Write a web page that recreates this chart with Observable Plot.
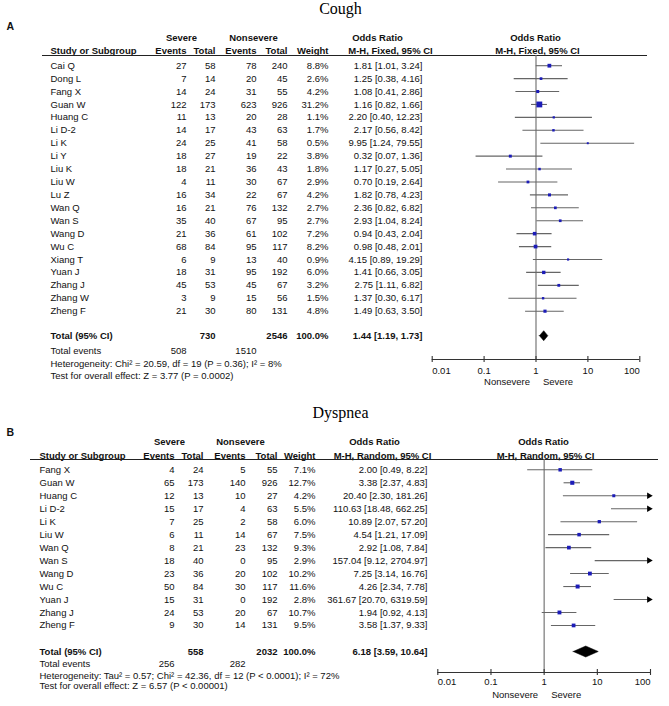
<!DOCTYPE html>
<html><head><meta charset="utf-8">
<script src="https://cdn.jsdelivr.net/npm/d3@7"></script>
<script src="https://cdn.jsdelivr.net/npm/@observablehq/plot@0.6"></script>
<style>
body{margin:0;background:#fff;}
#chart svg{display:block;}
</style></head><body><div id="chart"></div>
<script>
// ---------- Panel A: Cough ----------
const coughStudies = ["Cai Q","Dong L","Fang X","Guan W","Huang C","Li D-2","Li K","Li Y","Liu K","Liu W","Lu Z","Wan Q","Wan S","Wang D","Wu C","Xiang T","Yuan J","Zhang J","Zhang W","Zheng F"];
const coughSevereEvents = [27,7,14,122,11,14,24,18,18,4,16,16,35,21,68,6,18,45,3,21];
const coughSevereTotal = [58,14,24,173,13,17,25,27,21,11,34,21,40,36,84,9,31,53,9,30];
const coughNonsevereEvents = [78,20,31,623,20,43,41,19,36,30,22,76,67,61,95,13,95,45,15,80];
const coughNonsevereTotal = [240,45,55,926,28,63,58,22,43,67,67,132,95,102,117,40,192,67,56,131];
const coughWeight = [8.8,2.6,4.2,31.2,1.1,1.7,0.5,3.8,1.8,2.9,4.2,2.7,2.7,7.2,8.2,0.9,6.0,3.2,1.5,4.8];
const coughOR = [1.81,1.25,1.08,1.16,2.20,2.17,9.95,0.32,1.17,0.70,1.82,2.36,2.93,0.94,0.98,4.15,1.41,2.75,1.37,1.49];
const coughLower = [1.01,0.38,0.41,0.82,0.40,0.56,1.24,0.07,0.27,0.19,0.78,0.82,1.04,0.43,0.48,0.89,0.66,1.11,0.30,0.63];
const coughUpper = [3.24,4.16,2.86,1.66,12.23,8.42,79.55,1.36,5.05,2.64,4.23,6.82,8.24,2.04,2.01,19.29,3.05,6.82,6.17,3.50];
const coughPooled = [1.44, 1.19, 1.73];
const coughTotals = [730, 2546];
const coughTotalEvents = [508, 1510];
const coughHeterogeneity = "Heterogeneity: Chi² = 20.59, df = 19 (P = 0.36); I² = 8%";
const coughOverall = "Test for overall effect: Z = 3.77 (P = 0.0002)";

// ---------- Panel B: Dyspnea ----------
const dyspStudies = ["Fang X","Guan W","Huang C","Li D-2","Li K","Liu W","Wan Q","Wan S","Wang D","Wu C","Yuan J","Zhang J","Zheng F"];
const dyspSevereEvents = [4,65,12,15,7,6,8,18,23,50,15,24,9];
const dyspSevereTotal = [24,173,13,17,25,11,21,40,36,84,31,53,30];
const dyspNonsevereEvents = [5,140,10,4,2,14,23,0,20,30,0,20,14];
const dyspNonsevereTotal = [55,926,27,63,58,67,132,95,102,117,192,67,131];
const dyspWeight = [7.1,12.7,4.2,5.5,6.0,7.5,9.3,2.9,10.2,11.6,2.8,10.7,9.5];
const dyspOR = [2.00,3.38,20.40,110.63,10.89,4.54,2.92,157.04,7.25,4.26,361.67,1.94,3.58];
const dyspLower = [0.49,2.37,2.30,18.48,2.07,1.21,1.08,9.12,3.14,2.34,20.70,0.92,1.37];
const dyspUpper = [8.22,4.83,181.26,662.25,57.20,17.09,7.84,2704.97,16.76,7.78,6319.59,4.13,9.33];
const dyspPooled = [6.18, 3.59, 10.64];
const dyspTotals = [558, 2032];
const dyspTotalEvents = [256, 282];
const dyspHeterogeneity = "Heterogeneity: Tau² = 0.57; Chi² = 42.36, df = 12 (P < 0.0001); I² = 72%";
const dyspOverall = "Test for overall effect: Z = 6.57 (P < 0.00001)";

// ---------- Axis ----------
const axisTicks = [0.01, 0.1, 1, 10, 100];
const axisTickLabels = ["0.01", "0.1", "1", "10", "100"];

const f2 = v => v.toFixed(2);

function panel(c) {
  const W = 669;
  const L = c.L, R = c.R;
  const yi = px => (px - c.y0) / c.step;
  const rows = c.studies.map((s, i) => ({
    i, s, se: c.se[i], st: c.st[i], ne: c.ne[i], nt: c.nt[i], w: c.w[i],
    or: c.or[i], lo: c.lo[i], hi: c.hi[i]
  }));
  const T = (arr, colX, anchor, extra = {}) =>
    Plot.text(arr, {y: "y", text: "t", frameAnchor: "left", dx: colX - L, textAnchor: anchor, fill: "#111", ...extra});
  const B = {fontWeight: "bold"};
  const col = (key, fmt = d => String(d)) => rows.map(d => ({y: d.i, t: fmt(d[key])}));
  const ty = yi(c.totalY), h1 = yi(c.h1Y), h2 = yi(c.h2Y);
  const axY = yi(c.axisY), tk = 3 / c.step;
  const [pe, plo, phi] = c.pooled;
  const dh = c.diamondH / c.step;
  const tickData = axisTicks.map((v, k) => ({v, t: axisTickLabels[k], k}));
  const n = tickData.length;

  return Plot.plot({
    width: W, height: c.H,
    marginLeft: L, marginRight: W - R, marginTop: 0, marginBottom: 0,
    style: {fontFamily: "'Liberation Sans', Arial, sans-serif", fontSize: "9.5px", background: "#fff", overflow: "visible"},
    x: {type: "log", domain: [0.01, 100], range: c.xRange, axis: null},
    y: {type: "linear", domain: [0, 1], range: [c.y0, c.y0 + c.step], axis: null},
    r: {type: "sqrt", domain: [0, d3.max(c.w)], range: c.rRange},
    marks: [
      // title and panel letter
      T([{y: yi(c.titleY), t: c.title}], 340, "middle", {fontFamily: "'Liberation Serif', 'DejaVu Serif', serif", fontSize: 16, fill: "#000"}),
      T([{y: yi(c.letterY), t: c.letter}], 6, "start", {fontWeight: "bold", fontSize: 10.5}),
      // headers row 1
      T([{y: h1, t: "Severe"}], c.x.sevC, "middle", B),
      T([{y: h1, t: "Nonsevere"}], c.x.nonC, "middle", B),
      T([{y: h1, t: "Odds Ratio"}], c.x.orC1, "middle", B),
      T([{y: h1, t: "Odds Ratio"}], c.x.plC1, "middle", B),
      // headers row 2
      T([{y: h2, t: "Study or Subgroup"}], c.x.name, "start", B),
      T([{y: h2, t: "Events"}], c.x.se, "end", B),
      T([{y: h2, t: "Total"}], c.x.st, "end", B),
      T([{y: h2, t: "Events"}], c.x.ne, "end", B),
      T([{y: h2, t: "Total"}], c.x.nt, "end", B),
      T([{y: h2, t: "Weight"}], c.x.w, "end", B),
      T([{y: h2, t: c.method}], c.x.orC2, "middle", B),
      T([{y: h2, t: c.method}], c.x.plC2, "middle", B),
      Plot.ruleY([yi(c.ulY)], {stroke: "#222", strokeWidth: 1}),
      // study rows
      T(col("s"), c.x.name, "start"),
      T(col("se"), c.x.se, "end"),
      T(col("st"), c.x.st, "end"),
      T(col("ne"), c.x.ne, "end"),
      T(col("nt"), c.x.nt, "end"),
      T(col("w", v => v.toFixed(1) + "%"), c.x.w, "end"),
      T(rows.map(d => ({y: d.i, t: `${f2(d.or)} [${f2(d.lo)}, ${f2(d.hi)}]`})), c.x.or, "end"),
      // totals
      T([{y: ty, t: "Total (95% CI)"}], c.x.name, "start", B),
      T([{y: ty, t: String(c.totals[0])}], c.x.st, "end", B),
      T([{y: ty, t: String(c.totals[1])}], c.x.nt, "end", B),
      T([{y: ty, t: "100.0%"}], c.x.w, "end", B),
      T([{y: ty, t: `${f2(pe)} [${f2(plo)}, ${f2(phi)}]`}], c.x.or, "end", B),
      T([{y: yi(c.evY), t: "Total events"}], c.x.name, "start"),
      T([{y: yi(c.evY), t: String(c.totalEvents[0])}], c.x.se, "end"),
      T([{y: yi(c.evY), t: String(c.totalEvents[1])}], c.x.ne, "end"),
      T([{y: yi(c.hetY), t: c.het}], c.x.name, "start"),
      T([{y: yi(c.testY), t: c.test}], c.x.name, "start"),
      // reference line
      Plot.ruleX([1], {y1: () => yi(c.ulY), y2: () => axY, stroke: "#777", strokeWidth: 1.2}),
      // CI lines
      Plot.ruleY(rows, {y: "i", x1: "lo", x2: d => Math.min(d.hi, 100), stroke: "#666", strokeWidth: 1.1}),
      Plot.dot(rows.filter(d => d.hi > 100), {x: () => 100, y: "i", symbol: "triangle", rotate: 90, r: 2.4, fill: "#000", dx: -1.5}),
      Plot.dot(rows.filter(d => d.or <= 100), {x: "or", y: "i", symbol: "square", r: "w", fill: "#1c1cb8"}),
      // pooled diamond
      Plot.areaY([{x: plo, y1: ty, y2: ty}, {x: pe, y1: ty - dh, y2: ty + dh}, {x: phi, y1: ty, y2: ty}],
        {x: "x", y1: "y1", y2: "y2", fill: "#000", stroke: "#000", strokeWidth: 0.5}),
      // axis
      Plot.ruleY([axY], {x1: () => 0.01, x2: () => 100, stroke: "#333", strokeWidth: 1.1}),
      Plot.ruleX(axisTicks, {y1: () => axY - tk, y2: () => axY + tk, stroke: "#333", strokeWidth: 1.1}),
      Plot.text(tickData.filter(d => d.k === 0), {x: "v", y: () => yi(c.tickY), text: "t", textAnchor: "start", fill: "#111"}),
      Plot.text(tickData.filter(d => d.k > 0 && d.k < n - 1), {x: "v", y: () => yi(c.tickY), text: "t", textAnchor: "middle", fill: "#111"}),
      Plot.text(tickData.filter(d => d.k === n - 1), {x: "v", y: () => yi(c.tickY), text: "t", textAnchor: "end", fill: "#111"}),
      Plot.text([1], {x: d => d, y: () => yi(c.nsY), text: () => "Nonsevere", textAnchor: "end", dx: -6, fill: "#111"}),
      Plot.text([1], {x: d => d, y: () => yi(c.nsY), text: () => "Severe", textAnchor: "start", dx: 7, fill: "#111"})
    ]
  });
}

const chartA = panel({
  H: 392, L: 42, R: 647, y0: 65.2, step: 12.92, xRange: [431.7, 639.3], rRange: [0.8, 3.3], diamondH: 5,
  title: "Cough", letter: "A", method: "M-H, Fixed, 95% CI",
  titleY: 8, letterY: 26, h1Y: 37, h2Y: 50.7, ulY: 55, totalY: 335.7, evY: 350.7, hetY: 363, testY: 375.7,
  axisY: 359, tickY: 370, nsY: 381.7,
  x: {name: 50, se: 186, st: 215, ne: 256, nt: 287, w: 328, or: 422, sevC: 181, nonC: 253, orC1: 377, orC2: 390, plC1: 535, plC2: 537},
  studies: coughStudies, se: coughSevereEvents, st: coughSevereTotal, ne: coughNonsevereEvents, nt: coughNonsevereTotal,
  w: coughWeight, or: coughOR, lo: coughLower, hi: coughUpper, pooled: coughPooled, totals: coughTotals,
  totalEvents: coughTotalEvents, het: coughHeterogeneity, test: coughOverall
});

const chartB = panel({
  H: 314, L: 30, R: 658, y0: 77.3, step: 12.97, xRange: [437.3, 650], rRange: [0.9, 2.3], diamondH: 5.5,
  title: "Dyspnea", letter: "B", method: "M-H, Random, 95% CI",
  titleY: 20, letterY: 40, h1Y: 49.7, h2Y: 63, ulY: 67, totalY: 259.5, evY: 271, hetY: 283, testY: 293.7,
  axisY: 280, tickY: 289.7, nsY: 302,
  x: {name: 39, se: 174, st: 203, ne: 245, nt: 277, w: 315, or: 427, sevC: 169, nonC: 240, orC1: 374, orC2: 382, plC1: 543, plC2: 545},
  studies: dyspStudies, se: dyspSevereEvents, st: dyspSevereTotal, ne: dyspNonsevereEvents, nt: dyspNonsevereTotal,
  w: dyspWeight, or: dyspOR, lo: dyspLower, hi: dyspUpper, pooled: dyspPooled, totals: dyspTotals,
  totalEvents: dyspTotalEvents, het: dyspHeterogeneity, test: dyspOverall
});

document.getElementById("chart").append(chartA, chartB);
</script>
</body></html>
